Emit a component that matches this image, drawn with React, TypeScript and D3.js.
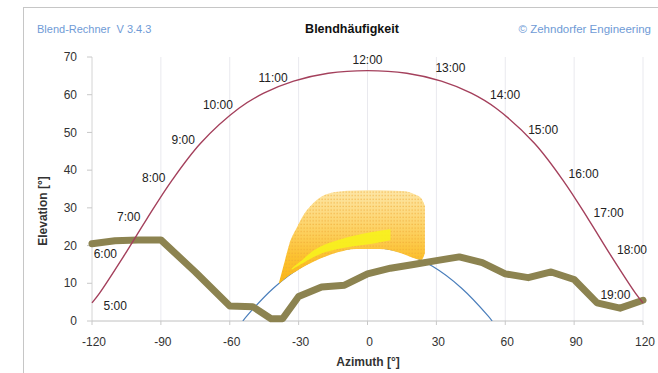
import * as d3 from "d3";

// sun path on the longest day, hourly marks
const hourLabels = ["5:00", "6:00", "7:00", "8:00", "9:00", "10:00", "11:00", "12:00", "13:00", "14:00", "15:00", "16:00", "17:00", "18:00", "19:00"];
const hourAz = [-116.7, -106.5, -96.3, -85.4, -72.6, -56.0, -32.2, 0, 32.2, 56.0, 72.6, 85.4, 96.3, 106.5, 116.7];
const hourEl = [7.4, 16.9, 26.9, 37.1, 47.2, 56.4, 63.6, 66.4, 63.6, 56.4, 47.2, 37.1, 26.9, 16.9, 7.4];

const summerAz = [-120, -116.7, -106.5, -96.3, -85.4, -72.6, -56.0, -45.2, -32.2, -17.1, 0, 17.1, 32.2, 45.2, 56.0, 72.6, 85.4, 96.3, 106.5, 116.7, 120];
const summerEl = [4.8, 7.4, 16.9, 26.9, 37.1, 47.2, 56.4, 60.4, 63.6, 65.7, 66.4, 65.7, 63.6, 60.4, 56.4, 47.2, 37.1, 26.9, 16.9, 7.4, 4.8];

// sun path on the shortest day
const winterAz = [-54.3, -52.6, -41.0, -28.3, -14.5, 0, 14.5, 28.3, 41.0, 52.6, 54.3];
const winterEl = [0, 1.3, 8.7, 14.5, 18.3, 19.6, 18.3, 14.5, 8.7, 1.3, 0];

// horizon profile
const horizonAz = [-120, -110, -100, -90, -75, -60, -50, -42, -37, -30, -20, -10, 0, 10, 20, 30, 40, 50, 60, 70, 80, 90, 100, 110, 120];
const horizonEl = [20.5, 21.3, 21.5, 21.5, 13, 4, 3.8, 0.6, 0.6, 6.5, 9, 9.5, 12.5, 14, 15, 16, 17, 15.5, 12.5, 11.5, 13, 11, 4.8, 3.4, 5.5];

// glare area (lower / upper bound) and its most frequent band
const glareAz = [-38.5, -36, -34, -31, -28, -24, -20, -13, -5, 5, 15, 21, 23.5, 25];
const glareLow = [9.9, 11.2, 12.1, 13.2, 14.3, 15.6, 16.7, 18.2, 19.1, 19.1, 17.9, 16.5, 16.2, 18];
const glareHigh = [10.3, 16, 20.5, 24.5, 28, 31, 33, 34.3, 34.6, 34.7, 34.5, 33.5, 32.5, 30.5];

const bandAz = [-33, -28, -24, -20, -13, -6, 2, 10];
const bandLow = [13.6, 15.4, 16.8, 17.9, 19.1, 19.8, 20.5, 21.4];
const bandHigh = [14, 16.4, 18.5, 19.9, 21.4, 22.6, 23.6, 24.3];

const xTicks = [-120, -90, -60, -30, 0, 30, 60, 90, 120];
const yTicks = [0, 10, 20, 30, 40, 50, 60, 70];

const W = 658;
const H = 373;
const font = "'Liberation Sans', Arial, sans-serif";

const x = d3.scaleLinear().domain([-120, 120]).range([92, 643]);
const y = d3.scaleLinear().domain([0, 70]).range([321, 57]);

type P = [number, number];
const zip = (a: number[], b: number[]): P[] => a.map((v, i) => [v, b[i]]);

const line = d3
  .line<P>()
  .x((d) => x(d[0]))
  .y((d) => y(d[1]))
  .curve(d3.curveCatmullRom);

const straight = d3
  .line<P>()
  .x((d) => x(d[0]))
  .y((d) => y(d[1]));

const band = (az: number[], lo: number[], hi: number[]) =>
  d3
    .area<number>()
    .x((i) => x(az[i]))
    .y0((i) => y(lo[i]))
    .y1((i) => y(hi[i]))
    .curve(d3.curveMonotoneX)(d3.range(az.length)) ?? "";

function labelPlacement(i: number) {
  const h = i + 5;
  if (h === 5) return { dx: 4, dy: 13, anchor: "start" };
  if (h < 12) return { dx: -6, dy: -3, anchor: "end" };
  if (h === 12) return { dx: 0, dy: -11, anchor: "middle" };
  if (h <= 15) return { dx: -6, dy: -13, anchor: "start" };
  if (h < 19) return { dx: 5, dy: -7, anchor: "start" };
  return { dx: -5, dy: 2, anchor: "end" };
}

export default function App() {
  return (
    <svg
      width={W}
      height={H}
      style={{ position: "absolute", left: 0, top: 0, background: "#fff" }}
      fontFamily={font}
    >
      <defs>
        <linearGradient id="glare" gradientUnits="userSpaceOnUse" x1="0" x2="0" y1={y(35)} y2={y(10)}>
          <stop offset="0" stopColor="#fde7aa" />
          <stop offset="0.35" stopColor="#fdd671" />
          <stop offset="0.7" stopColor="#fcc232" />
          <stop offset="1" stopColor="#fbb614" />
        </linearGradient>
        <pattern id="dots" width="3" height="3.6" patternUnits="userSpaceOnUse">
          <rect x="0.4" y="0.6" width="1.6" height="1.3" fill="#eea733" opacity="0.55" />
        </pattern>
        <clipPath id="plot">
          <rect x={x(-120)} y={y(70) - 4} width={x(120) - x(-120)} height={y(0) - y(70) + 4} />
        </clipPath>
      </defs>

      {/* frame */}
      <rect x={23.5} y={7.5} width={W} height={H} fill="#fff" stroke="#c6c6c6" />

      {/* header */}
      <text x={37} y={33} fontSize={11} fill="#6f9bd6">
        Blend-Rechner&#160;&#160;V 3.4.3
      </text>
      <text x={352} y={33} fontSize={12.5} fontWeight="bold" textAnchor="middle" fill="#111">
        Blendhäufigkeit
      </text>
      <text x={651} y={33} fontSize={11.5} textAnchor="end" fill="#6f9bd6">
        © Zehndorfer Engineering
      </text>

      {/* grid */}
      {xTicks.slice(1).map((t) => (
        <line key={t} x1={x(t)} x2={x(t)} y1={y(70)} y2={y(0)} stroke="#e9e9ee" />
      ))}

      {/* axes */}
      <line x1={x(-120)} x2={x(-120)} y1={y(70)} y2={y(0)} stroke="#d4d4d4" />
      {yTicks.map((t) => (
        <g key={t}>
          <line x1={x(-120) - 5} x2={x(-120)} y1={y(t)} y2={y(t)} stroke="#c8c8c8" />
          <text x={77} y={y(t)} dy="0.35em" fontSize={12} textAnchor="end" fill="#333">
            {t}
          </text>
        </g>
      ))}
      <line x1={x(-120)} x2={x(120)} y1={y(0)} y2={y(0)} stroke="#c0c0c0" />
      {xTicks.map((t) => (
        <g key={t}>
          <line x1={x(t)} x2={x(t)} y1={y(0)} y2={y(0) + 4} stroke="#c8c8c8" />
          <text x={x(t) + 2} y={346} fontSize={12} textAnchor="middle" fill="#333">
            {t}
          </text>
        </g>
      ))}
      <text x={368} y={366} fontSize={12} fontWeight="bold" textAnchor="middle" fill="#333">
        Azimuth [°]
      </text>
      <text
        transform={`translate(47,211) rotate(-90)`}
        fontSize={12}
        fontWeight="bold"
        textAnchor="middle"
        fill="#333"
      >
        Elevation [°]
      </text>

      <g clipPath="url(#plot)">
        {/* shortest day */}
        <path d={line(zip(winterAz, winterEl)) ?? ""} fill="none" stroke="#4a7ebb" strokeWidth={1.2} />

        {/* glare frequency */}
        <path d={band(glareAz, glareLow, glareHigh)} fill="url(#glare)" />
        <path d={band(glareAz, glareLow, glareHigh)} fill="url(#dots)" />
        <path d={band(bandAz, bandLow, bandHigh)} fill="#f7f21c" opacity={0.9} />
      </g>

      {/* horizon */}
      <path
        d={straight(zip(horizonAz, horizonEl)) ?? ""}
        fill="none"
        stroke="#8c8350"
        strokeWidth={7}
        strokeLinejoin="round"
        strokeLinecap="round"
      />

      {/* longest day */}
      <path d={line(zip(summerAz, summerEl)) ?? ""} fill="none" stroke="#a4405c" strokeWidth={1.4} />
      {hourLabels.map((lab, i) => {
        const p = labelPlacement(i);
        return (
          <text
            key={lab}
            x={x(hourAz[i]) + p.dx}
            y={y(hourEl[i]) + p.dy}
            dy="0.35em"
            fontSize={12}
            textAnchor={p.anchor}
            fill="#222"
          >
            {lab}
          </text>
        );
      })}
    </svg>
  );
}
